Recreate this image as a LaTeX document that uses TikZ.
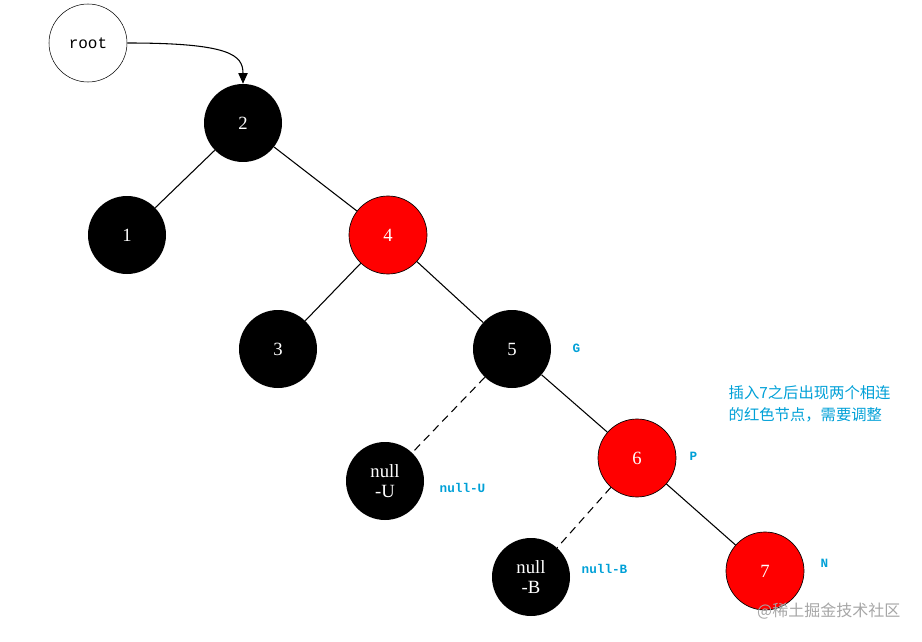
\documentclass[tikz,border=0pt]{standalone}
\usepackage{fontspec}
\setmonofont{Liberation Mono}
\setmainfont{Liberation Serif}
\newfontfamily\cjk{Noto Sans CJK SC}
\usetikzlibrary{arrows.meta}
\definecolor{lab}{RGB}{0,160,215}
\begin{document}
\begin{tikzpicture}[x=0.75pt,y=-0.75pt,
  bn/.style={circle,fill=black,minimum size=58.5pt,inner sep=0pt,text=white,font=\rmfamily\fontsize{14}{15}\selectfont,align=center},
  rn/.style={bn,fill=red,draw=black,line width=0.5pt},
  lbl/.style={text=lab,font=\ttfamily\bfseries\fontsize{9.5}{11}\selectfont,anchor=west},
  edge/.style={line width=0.8pt}]
\useasboundingbox (0,0) rectangle (922,642);
\node[circle,draw,minimum size=58.5pt,inner sep=0pt,font=\ttfamily\fontsize{12}{14}\selectfont] (root) at (88,43) {root};
\node[bn] (n2) at (243,123) {2};
\node[bn] (n1) at (127,235) {1};
\node[rn] (n4) at (388,235) {4};
\node[bn] (n3) at (278,349) {3};
\node[bn] (n5) at (512,349) {5};
\node[bn] (nu) at (385,481) {null\\[0pt]-U};
\node[rn] (n6) at (637,458) {6};
\node[bn] (nb) at (531,577) {null\\[0pt]-B};
\node[rn] (n7) at (765,571) {7};
\draw[edge,-{Triangle[length=8pt,width=7pt]}] (root.east) .. controls (230,43) and (243,55) .. (n2.north);
\draw[edge] (n2) -- (n1);
\draw[edge] (n2) -- (n4);
\draw[edge] (n4) -- (n3);
\draw[edge] (n4) -- (n5);
\draw[edge,dashed,dash pattern=on 6pt off 4pt] (n5) -- (nu);
\draw[edge] (n5) -- (n6);
\draw[edge,dashed,dash pattern=on 6pt off 4pt] (n6) -- (nb);
\draw[edge] (n6) -- (n7);
\node[lbl] (g) at (568,348) {G};
\node[lbl] (p) at (685,456) {P};
\node[lbl] (lu) at (435,488) {null-U};
\node[lbl] (lb) at (577,569) {null-B};
\node[lbl] (ln) at (816,563) {N};
\node[text=lab,font=\cjk\fontsize{11.5}{16}\selectfont,anchor=west,align=left] (txt) at (724,404) {插入7之后出现两个相连\\的红色节点，需要调整};
\node[text=gray!70,font=\cjk\fontsize{12}{14}\selectfont,anchor=east] (wm) at (905,611) {@稀土掘金技术社区};
\end{tikzpicture}
\end{document}
